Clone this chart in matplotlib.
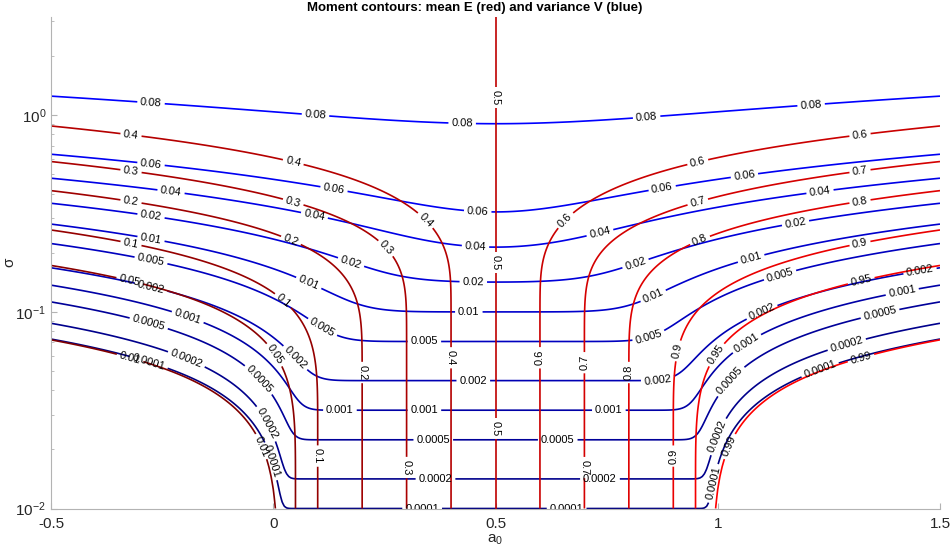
import math
import numpy as np
import matplotlib
matplotlib.use("Agg")
import matplotlib.pyplot as plt
from matplotlib.ticker import LogLocator, FixedLocator, FuncFormatter, NullFormatter

plt.rcParams['font.family'] = ['Liberation Sans', 'DejaVu Sans']
plt.rcParams['mathtext.fontset'] = 'custom'
plt.rcParams['mathtext.rm'] = 'Liberation Sans'
plt.rcParams['mathtext.it'] = 'Liberation Sans:italic'
plt.rcParams['mathtext.default'] = 'regular'

# ---- data ----
title = "Moment contours: mean E (red) and variance V (blue)"
mean_levels = [0.01, 0.05, 0.1, 0.2, 0.3, 0.4, 0.5, 0.6, 0.7, 0.8, 0.9, 0.95, 0.99]
var_levels = [0.0001, 0.0002, 0.0005, 0.001, 0.002, 0.005, 0.01, 0.02, 0.04, 0.06, 0.08]
a0_range = [-0.5, 1.5]
sigma_range = [0.01, 10 ** 0.5]
x_ticks = [-0.5, 0, 0.5, 1, 1.5]
y_ticks = [0.01, 0.1, 1]

# ---- field: moments of a normal(a0, sigma) truncated to [0, 1] ----
_erfc = np.frompyfunc(math.erfc, 1, 1)
SQ2 = math.sqrt(2.0)
SQ2PI = math.sqrt(2.0 * math.pi)


def Q(x):
    return 0.5 * _erfc(np.asarray(x, dtype=float) / SQ2).astype(float)


def phi(x):
    return np.exp(-0.5 * x * x) / SQ2PI


def mills(x):
    x = np.asarray(x, dtype=float)
    out = np.empty_like(x)
    small = x < 3.0
    xs = x[small]
    out[small] = Q(xs) / phi(xs)
    xl = x[~small]
    t = xl.copy()
    for k in range(120, 0, -1):
        t = xl + k / t
    out[~small] = 1.0 / t
    return out


def tail_case(aa, bb):
    e = np.exp(-0.5 * (bb - aa) * (bb + aa))
    D = mills(aa) - mills(bb) * e
    mm = (1 - e) / D
    tt = (aa - bb * e) / D
    return mm, 1 + tt - mm * mm


def std_moments(a, b):
    m = np.empty_like(a)
    v = np.empty_like(a)
    A = a >= 0
    if A.any():
        m[A], v[A] = tail_case(a[A], b[A])
    B = b <= 0
    if B.any():
        mm, vv = tail_case(-b[B], -a[B])
        m[B], v[B] = -mm, vv
    C = (~A) & (~B)
    if C.any():
        aa, bb = a[C], b[C]
        Z = 1 - Q(bb) - Q(-aa)
        pa, pb = phi(aa), phi(bb)
        mm = (pa - pb) / Z
        tt = (aa * pa - bb * pb) / Z
        m[C] = mm
        v[C] = 1 + tt - mm * mm
    return m, v


a0 = np.linspace(a0_range[0], a0_range[1], 401)
sig = np.logspace(np.log10(sigma_range[0]), np.log10(sigma_range[1]), 301)
MU, S = np.meshgrid(a0, sig)
alpha = (0 - MU) / S
beta = (1 - MU) / S
mz, vz = std_moments(alpha.ravel(), beta.ravel())
E = (MU.ravel() + S.ravel() * mz).reshape(MU.shape)
V = (S.ravel() ** 2 * vz).reshape(MU.shape)

# ---- plot ----
fig = plt.figure(figsize=(9.5, 5.58), dpi=100)
ax = fig.add_axes([51 / 950, 1 - 508.5 / 558, (940 - 51) / 950, (508.5 - 17) / 558])
ax.set_yscale('log')
ax.set_xlim(a0_range)
ax.set_ylim(sigma_range)

nE = len(mean_levels)
ecols = [(0.5 + 0.5 * i / (nE - 1), 0, 0) for i in range(nE)]
nV = len(var_levels)
vcols = [(0, 0, 0.5 + 0.5 * i / (nV - 1)) for i in range(nV)]

cv = ax.contour(MU, S, V, levels=var_levels, colors=vcols, linewidths=1.2)
ce = ax.contour(MU, S, E, levels=mean_levels, colors=ecols, linewidths=1.2)


def segments(cs):
    out = []
    for path in cs.get_paths():
        verts = path.vertices
        if len(verts) < 2:
            continue
        codes = path.codes
        if codes is None:
            segs = [verts]
        else:
            idx = np.where(codes == 1)[0]
            segs = np.split(verts, idx[1:])
        out.extend([sg for sg in segs if len(sg) >= 2])
    return out


def display_pts(cs):
    segs = segments(cs)
    return np.vstack([ax.transData.transform(sg) for sg in segs])


placed = []


def label_positions(cs, other_pts, spacing, offset):
    pos = []
    for seg in segments(cs):
        d = ax.transData.transform(seg)
        ds = np.hypot(*np.diff(d, axis=0).T)
        s = np.concatenate([[0], np.cumsum(ds)])
        for t0 in np.arange(offset, s[-1] - 10, spacing):
            chosen = None
            for dt in [0, 20, -20, 40, -40, 60, -60]:
                t = t0 + dt
                if t < 0 or t > s[-1]:
                    continue
                i = min(np.searchsorted(s, t), len(seg) - 1)
                p = d[i]
                dmin = np.min(np.hypot(*(other_pts - p).T))
                dl = min([np.hypot(*(p - q)) for q in placed] + [1e9])
                if dmin > 14 and dl > 30:
                    chosen = i
                    break
            if chosen is None:
                chosen = min(np.searchsorted(s, t0), len(seg) - 1)
            placed.append(d[chosen])
            pos.append((seg[chosen, 0], seg[chosen, 1]))
    return pos


pv = display_pts(cv)
pe = display_pts(ce)
v_pos = label_positions(cv, pe, 165, 100)
e_pos = label_positions(ce, pv, 165, 80)

fmt = lambda x: '%g' % x
ax.clabel(cv, fmt=fmt, fontsize=8, inline=True, inline_spacing=3, colors='k', manual=v_pos)
ax.clabel(ce, fmt=fmt, fontsize=8, inline=True, inline_spacing=3, colors='k', manual=e_pos)

ax.xaxis.set_major_locator(FixedLocator(x_ticks))
ax.xaxis.set_major_formatter(FuncFormatter(lambda x, p: '%g' % x))
ax.yaxis.set_major_locator(FixedLocator(y_ticks))
ax.yaxis.set_major_formatter(FuncFormatter(lambda y, p: r'$10^{%d}$' % round(math.log10(y))))
ax.yaxis.set_minor_locator(LogLocator(base=10, subs=np.arange(2, 10)))
ax.yaxis.set_minor_formatter(NullFormatter())

for s in ['top', 'right']:
    ax.spines[s].set_visible(False)
for s in ['left', 'bottom']:
    ax.spines[s].set_color('#b3b3b3')
    ax.spines[s].set_linewidth(0.8)
ax.tick_params(which='both', direction='in', color='#b3b3b3', labelcolor='#262626', labelsize=11)
ax.tick_params(axis='x', pad=6)
ax.tick_params(which='major', length=4)
ax.tick_params(which='minor', length=2.5)

fig.text(0.5, 1 - 8 / 558, title, fontsize=9.5, fontweight='bold', ha='center', va='center')
ax.set_xlabel('a$_0$', fontsize=11, color='#262626', labelpad=1)
ax.set_ylabel('σ', fontsize=11, color='#262626')
ax.yaxis.set_label_coords(-0.039, 0.5)

fig.savefig('out.png', dpi=100)
